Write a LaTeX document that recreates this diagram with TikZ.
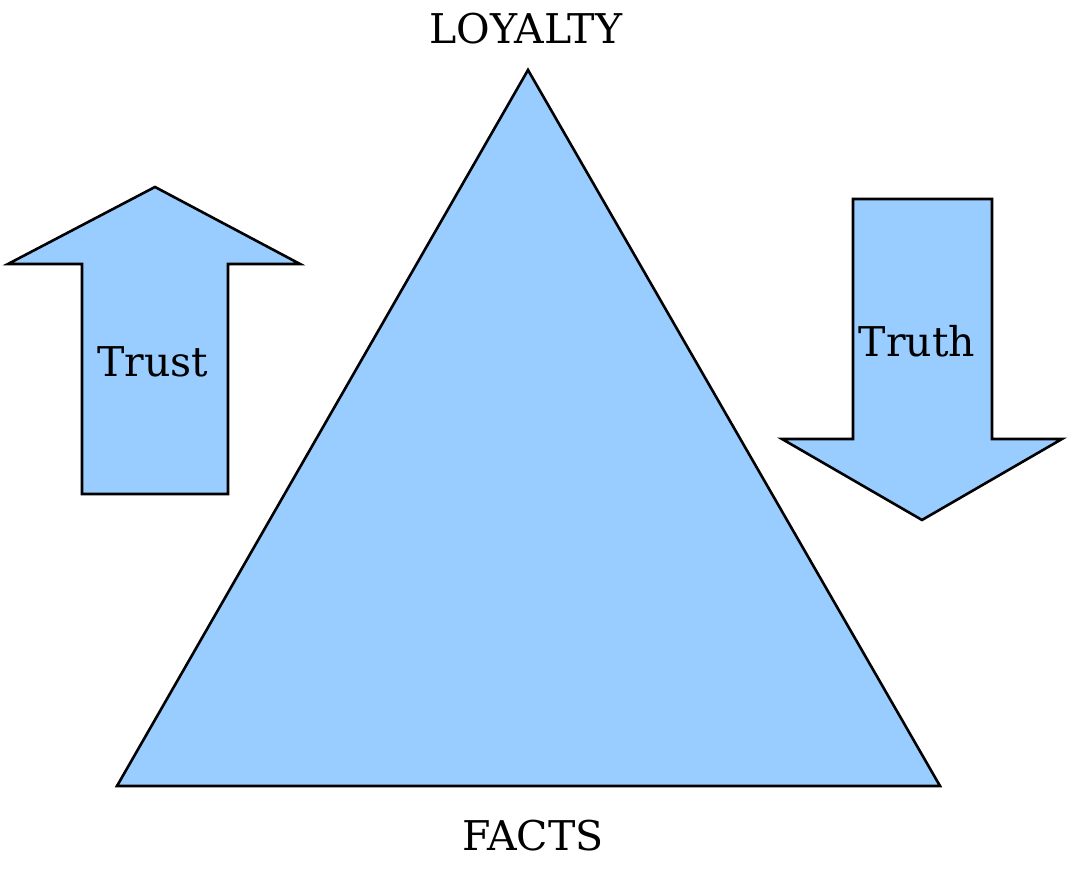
\documentclass[tikz,border=0pt]{standalone}
\usepackage{fontspec}
\setmainfont{DejaVu Serif}
\definecolor{azulClaro}{HTML}{99CCFF}
\definecolor{contorno}{HTML}{000000}
\usetikzlibrary{calc}

\begin{document}
\begin{tikzpicture}[x=0.5pt, y=0.5pt,
    every node/.style={font=\fontsize{20.5}{24}\selectfont, text=black},
    forma/.style={fill=azulClaro, draw=contorno, line width=1.3pt, line join=miter}]

  \def\H{870}    % alto total
  \def\W{1072}   % ancho total

  % ── Marco ─────────────────────────────────────────────────
  \useasboundingbox (0,0) rectangle (\W,\H);

  % ── Triángulo ─────────────────────────────────────────────
  \draw[forma]
    (528,\H-70) -- (940,\H-786) -- (117,\H-786) -- cycle;

  % ── Flecha arriba (Trust) ─────────────────────────────────
  \draw[forma]
    (155,\H-187) -- (300,\H-264) -- (228,\H-264) -- (228,\H-494)
    -- (82,\H-494) -- (82,\H-264) -- (8,\H-264) -- cycle;

  % ── Flecha abajo (Truth) ──────────────────────────────────
  \draw[forma]
    (853,\H-199) -- (992,\H-199) -- (992,\H-439) -- (1062,\H-439)
    -- (922,\H-520) -- (782,\H-439) -- (853,\H-439) -- cycle;

  % ── Textos ────────────────────────────────────────────────
  \node (lealtad) at (526,\H-29) {LOYALTY};
  \node (hechos)  at (533,\H-836) {FACTS};
  \node (confianza) at (153,\H-362) {Trust};
  \node (verdad)  at (917,\H-341) {Truth};

\end{tikzpicture}
\end{document}
